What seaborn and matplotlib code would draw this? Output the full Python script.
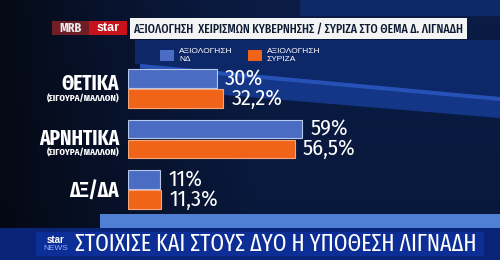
import numpy as np
import pandas as pd
import matplotlib
matplotlib.use("Agg")
import matplotlib.pyplot as plt
from matplotlib.patches import Rectangle, Polygon
import seaborn as sns

# ---------------- data ----------------
categories = ["ΘΕΤΙΚΑ", "ΑΡΝΗΤΙΚΑ", "ΔΞ/ΔΑ"]
sublabels = ["(ΣΙΓΟΥΡΑ/ΜΑΛΛΟΝ)", "(ΣΙΓΟΥΡΑ/ΜΑΛΛΟΝ)", ""]
series = ["ΑΞΙΟΛΟΓΗΣΗ\nΝΔ", "ΑΞΙΟΛΟΓΗΣΗ\nΣΥΡΙΖΑ"]
nd_values = [30, 59, 11]
syriza_values = [32.2, 56.5, 11.3]
title = "ΑΞΙΟΛΟΓΗΣΗ  ΧΕΙΡΙΣΜΩΝ ΚΥΒΕΡΝΗΣΗΣ / ΣΥΡΙΖΑ ΣΤΟ ΘΕΜΑ Δ. ΛΙΓΝΑΔΗ"
banner = "ΣΤΟΙΧΙΣΕ ΚΑΙ ΣΤΟΥΣ ΔΥΟ Η ΥΠΟΘΕΣΗ ΛΙΓΝΑΔΗ"

df = pd.DataFrame({
    "category": categories * 2,
    "series": [series[0]] * 3 + [series[1]] * 3,
    "value": nd_values + syriza_values,
})

sns.set_theme(style="white")
XC = ["Fira Sans Extra Condensed", "Liberation Sans Narrow", "DejaVu Sans"]
CO = ["Fira Sans Condensed", "Liberation Sans Narrow", "DejaVu Sans"]
RG = ["Liberation Sans", "DejaVu Sans"]
plt.rcParams["font.family"] = CO

BLUE = "#4a6cc2"
ORANGE = "#ef6419"

fig = plt.figure(figsize=(5, 2.6), dpi=100)


def fit_width(txt, target_px):
    fig.canvas.draw()
    for _ in range(2):
        w = txt.get_window_extent(fig.canvas.get_renderer()).width
        txt.set_fontsize(txt.get_fontsize() * target_px / w)
        fig.canvas.draw()


# ---------------- background ----------------
bg = fig.add_axes([0, 0, 1, 1])
bg.set_xlim(0, 500)
bg.set_ylim(260, 0)
bg.axis("off")
xs = np.linspace(0, 1, 200)
ys = np.linspace(0, 1, 100)
X, Y = np.meshgrid(xs, ys)
c_left = np.array([0.02, 0.04, 0.09])
c_right = np.array([0.04, 0.11, 0.27])
t = np.clip((X - 0.02) / 0.5, 0, 1) ** 0.8
img = c_left[None, None, :] * (1 - t[..., None]) + c_right[None, None, :] * t[..., None]
img = img * (1.0 - 0.15 * Y[..., None])
bg.imshow(img, extent=[0, 500, 260, 0], aspect="auto", zorder=0)
bg.add_patch(Polygon([[135, 40], [500, 40], [500, 97], [135, 64]],
                     closed=True, color="#0e2a6e", alpha=0.9, lw=0, zorder=1))
bg.add_patch(Rectangle((300, 0), 200, 16, color="#0d2a66", lw=0, zorder=1))
bg.add_patch(Polygon([[140, 64], [500, 97], [500, 118], [140, 88]],
                     closed=True, color="#153a90", alpha=0.9, lw=0, zorder=1))
bg.add_patch(Polygon([[140, 64], [500, 97], [500, 101], [140, 68]],
                     closed=True, color="#2a58c0", alpha=0.85, lw=0, zorder=1))
# top logo
bg.add_patch(Rectangle((52, 21), 37, 14, color="#6e1e24", lw=0, zorder=2))
bg.add_patch(Rectangle((89, 21), 38, 14, color="#c8121c", lw=0, zorder=2))
bg.text(70.5, 28.5, "MRB", color="#e8e8e8", fontsize=9.5, fontweight="bold",
        ha="center", va="center", zorder=3, family=XC)
bg.text(108, 28, "star", color="white", fontsize=9, fontweight="bold",
        ha="center", va="center", zorder=3, family=RG)
# title box
bg.add_patch(Rectangle((130, 18), 337, 21, color="#f4f4f4", lw=0, zorder=2))
ttl = bg.text(298, 28.8, title, color="#0d1a33", fontsize=12, fontweight="medium",
              ha="center", va="center", zorder=3, family=XC)
# bottom banner
bg.add_patch(Rectangle((100, 214), 400, 14, color="#4f80d4", lw=0, zorder=2))
bg.add_patch(Rectangle((0, 228), 500, 32, color="#0a2478", lw=0, zorder=2))
bg.add_patch(Rectangle((36, 232), 448, 24, color="#0c2e96", lw=0, zorder=2))
bg.text(56, 240, "star", color="white", fontsize=7, fontweight="bold",
        ha="center", va="center", zorder=3, family=RG)
bg.text(56, 249, "NEWS", color="#8fb4ff", fontsize=6,
        ha="center", va="center", zorder=3, family=RG)
bnr = bg.text(75, 244.5, banner, color="white", fontsize=15,
              ha="left", va="center", zorder=3, family=XC)

# ---------------- bars ----------------
ax = fig.add_axes([128 / 500, (260 - 215) / 260, 372 / 500, 152 / 260])
ax.patch.set_alpha(0)
sns.barplot(data=df, y="category", x="value", hue="series", orient="h",
            palette=[BLUE, ORANGE], width=0.8, gap=0.08, ax=ax,
            edgecolor="#b8c8ec", linewidth=0.8, saturation=1, legend=True)
ax.set_xlim(0, 372 / 2.95)
ax.set_ylim(2.5, -0.5)
for s in ax.spines.values():
    s.set_visible(False)
ax.set_xticks([])
ax.set_yticks([])
ax.set_xlabel("")
ax.set_ylabel("")

for bar in ax.containers[1]:
    bar.set_edgecolor("#f6a878")

for cont in ax.containers:
    vals = cont.datavalues
    labs = [("%g" % v).replace(".", ",") + "%" for v in vals]
    ax.bar_label(cont, labels=labs, padding=6, color="white", fontsize=16,
                 family=CO)

ytr = ax.get_yaxis_transform()
main_off = [-0.08, -0.01, 0.03]
sub_off = [0.2, 0.28, 0]
for i, (c, sl) in enumerate(zip(categories, sublabels)):
    ax.text(-0.024, i + main_off[i], c, transform=ytr, ha="right", va="center",
            color="white", fontsize=15, fontweight="bold", family=XC)
    if sl:
        ax.text(-0.024, i + sub_off[i], sl, transform=ytr, ha="right", va="center",
                color="white", fontsize=7, fontweight="bold", family=XC)

leg = ax.legend(loc="upper left", bbox_to_anchor=(160 / 500, 1 - 48 / 260),
                bbox_transform=fig.transFigure, ncol=2, frameon=False,
                prop={"family": RG, "size": 6}, handlelength=1.7, handleheight=1.7,
                handletextpad=0.6, columnspacing=1.8, borderpad=0,
                borderaxespad=0, labelcolor="white")
for h in leg.legend_handles:
    h.set_edgecolor("none")

fit_width(ttl, 330)
fit_width(bnr, 402)

fig.savefig("out.png", dpi=100)
